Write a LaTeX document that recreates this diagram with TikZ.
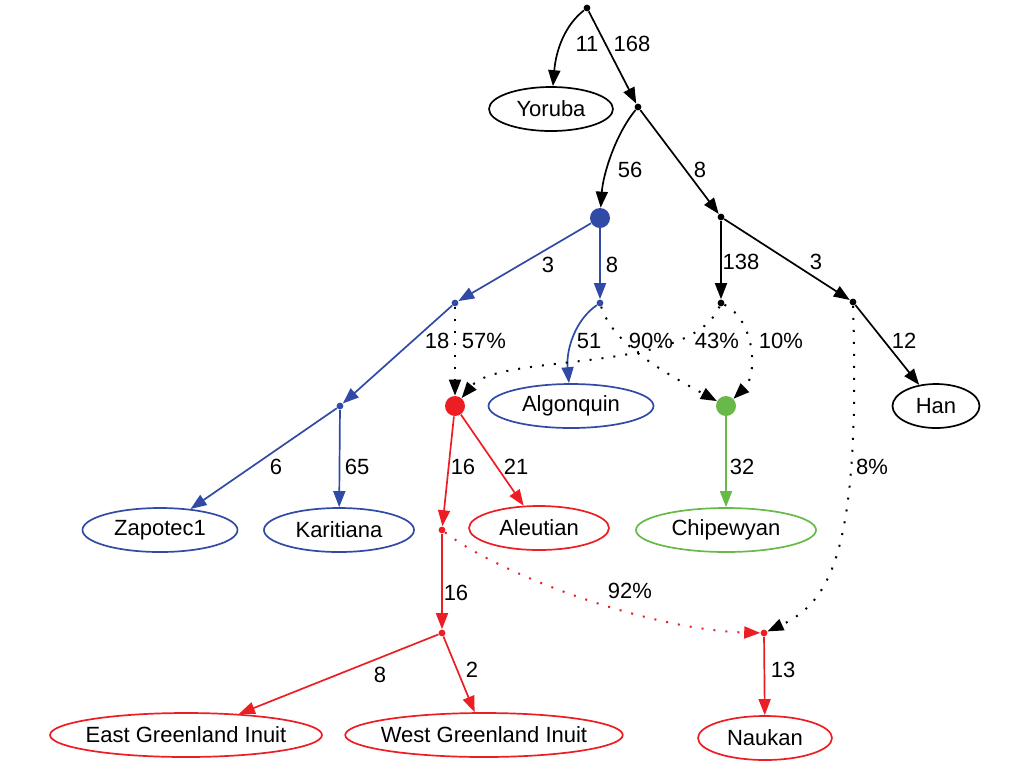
\documentclass[tikz,border=0pt]{standalone}
\usepackage{fontspec}
\setmainfont{Liberation Sans}
\usetikzlibrary{arrows.meta,shapes.geometric}
\definecolor{treeblue}{RGB}{48,74,165}
\definecolor{treered}{RGB}{236,30,36}
\definecolor{treegreen}{RGB}{104,186,72}
\tikzset{pop/.style={ellipse,draw,inner ysep=0pt,inner xsep=-2.5pt,minimum height=22pt,line width=0.85pt,text=black,font=\fontsize{11}{13}\selectfont},
         split/.style={circle,fill,draw=none,inner sep=0pt,minimum size=3.4pt},
         mix/.style={circle,fill,draw=none,inner sep=0pt,minimum size=10pt},
         edge label/.style={rectangle,draw=none,fill=none,inner sep=0pt,font=\fontsize{11}{13}\selectfont},
         tree/.style={-{Triangle[length=8pt,width=6pt]},line width=0.85pt},
         admix/.style={tree,line width=1pt,dash pattern=on 1pt off 5pt}
}
\begin{document}
\begin{tikzpicture}[x=0.5pt,y=-0.5pt]
\useasboundingbox (0,0) rectangle (1024,768);

\node[split] (root) at (587,8) {};
\node[split] (n1) at (638,107) {};
\node[mix,treeblue] (nat) at (600,218) {};
\node[split] (n3) at (721,217) {};
\node[split,treeblue] (n4) at (455,303) {};
\node[split,treeblue] (n5) at (600,303) {};
\node[split] (n6) at (721,303) {};
\node[split] (n7) at (853,302) {};
\node[split,treeblue] (n8) at (340,406) {};
\node[mix,treered] (eskimo) at (455,406) {};
\node[mix,treegreen] (dene) at (726,406) {};
\node[split,treered] (r1) at (442,530) {};
\node[split,treered] (r2) at (442,633) {};
\node[split,treered] (r3) at (764,633) {};

\node[pop,minimum width=62pt] (yoruba) at (551,109) {Yoruba};
\node[pop,minimum width=82.5pt,draw=treeblue] (algonquin) at (571,406) {Algonquin};
\node[pop,minimum width=43.5pt] (han) at (936,406) {Han};
\node[pop,minimum width=77.5pt,draw=treeblue] (zapotec) at (160,530) {Zapotec1};
\node[pop,minimum width=75pt,draw=treeblue] (karitiana) at (339,530) {Karitiana};
\node[pop,minimum width=70pt,draw=treered] (aleutian) at (539,528) {Aleutian};
\node[pop,minimum width=90pt,draw=treegreen] (chipewyan) at (726,530) {Chipewyan};
\node[pop,minimum width=136pt,draw=treered] (egi) at (186,735) {East Greenland Inuit};
\node[pop,minimum width=138pt,draw=treered] (wgi) at (484,735) {West Greenland Inuit};
\node[pop,minimum width=67pt,draw=treered] (naukan) at (765,738) {Naukan};

\draw[tree] (root) .. controls (565,25) and (556,50) .. (yoruba);
\draw[tree] (root) -- (n1);
\draw[tree] (n1) .. controls (615,135) and (603,175) .. (nat);
\draw[tree] (n1) -- (n3);
\draw[tree,treeblue] (nat) -- (n4);
\draw[tree,treeblue] (nat) -- (n5);
\draw[tree] (n3) -- (n6);
\draw[tree] (n3) -- (n7);
\draw[tree] (n7) -- (han);
\draw[tree,treeblue] (n4) -- (n8);
\draw[tree,treeblue] (n5) .. controls (575,320) and (566,350) .. (algonquin);
\draw[tree,treeblue] (n8) -- (zapotec);
\draw[tree,treeblue] (n8) -- (karitiana);
\draw[admix] (n4) -- (eskimo);
\draw[admix] (n5) .. controls (612,340) and (650,365) .. (dene);
\draw[admix] (n6) .. controls (690,375) and (500,352) .. (eskimo);
\draw[admix] (n6) .. controls (755,320) and (758,375) .. (dene);
\draw[admix] (n7) .. controls (860,540) and (835,600) .. (r3);
\draw[tree,treered] (eskimo) -- (r1);
\draw[tree,treered] (eskimo) -- (aleutian);
\draw[tree,treegreen] (dene) -- (chipewyan);
\draw[tree,treered] (r1) -- (r2);
\draw[admix,treered] (r1) .. controls (500,575) and (650,630) .. (r3);
\draw[tree,treered] (r2) -- (egi);
\draw[tree,treered] (r2) -- (wgi);
\draw[tree,treered] (r3) -- (naukan);

\node[edge label] (l1) at (587,44) {11};
\node[edge label] (l2) at (632,44) {168};
\node[edge label] (l3) at (630,170) {56};
\node[edge label] (l4) at (700,170) {8};
\node[edge label] (l5) at (548,265) {3};
\node[edge label] (l6) at (612,265) {8};
\node[edge label] (l7) at (741,262) {138};
\node[edge label] (l8) at (816,262) {3};
\node[edge label] (l9) at (437,341) {18};
\node[edge label] (l10) at (484,341) {57\%};
\node[edge label] (l11) at (589,341) {51};
\node[edge label] (l12) at (651,341) {90\%};
\node[edge label] (l13) at (717,341) {43\%};
\node[edge label] (l14) at (781,341) {10\%};
\node[edge label] (l15) at (904,341) {12};
\node[edge label] (l16) at (276,467) {6};
\node[edge label] (l17) at (357,467) {65};
\node[edge label] (l18) at (463,467) {16};
\node[edge label] (l19) at (516,467) {21};
\node[edge label] (l20) at (742,467) {32};
\node[edge label] (l21) at (872,467) {8\%};
\node[edge label] (l22) at (456,593) {16};
\node[edge label] (l23) at (630,591) {92\%};
\node[edge label] (l24) at (380,675) {8};
\node[edge label] (l25) at (472,670) {2};
\node[edge label] (l26) at (783,670) {13};
\end{tikzpicture}
\end{document}
